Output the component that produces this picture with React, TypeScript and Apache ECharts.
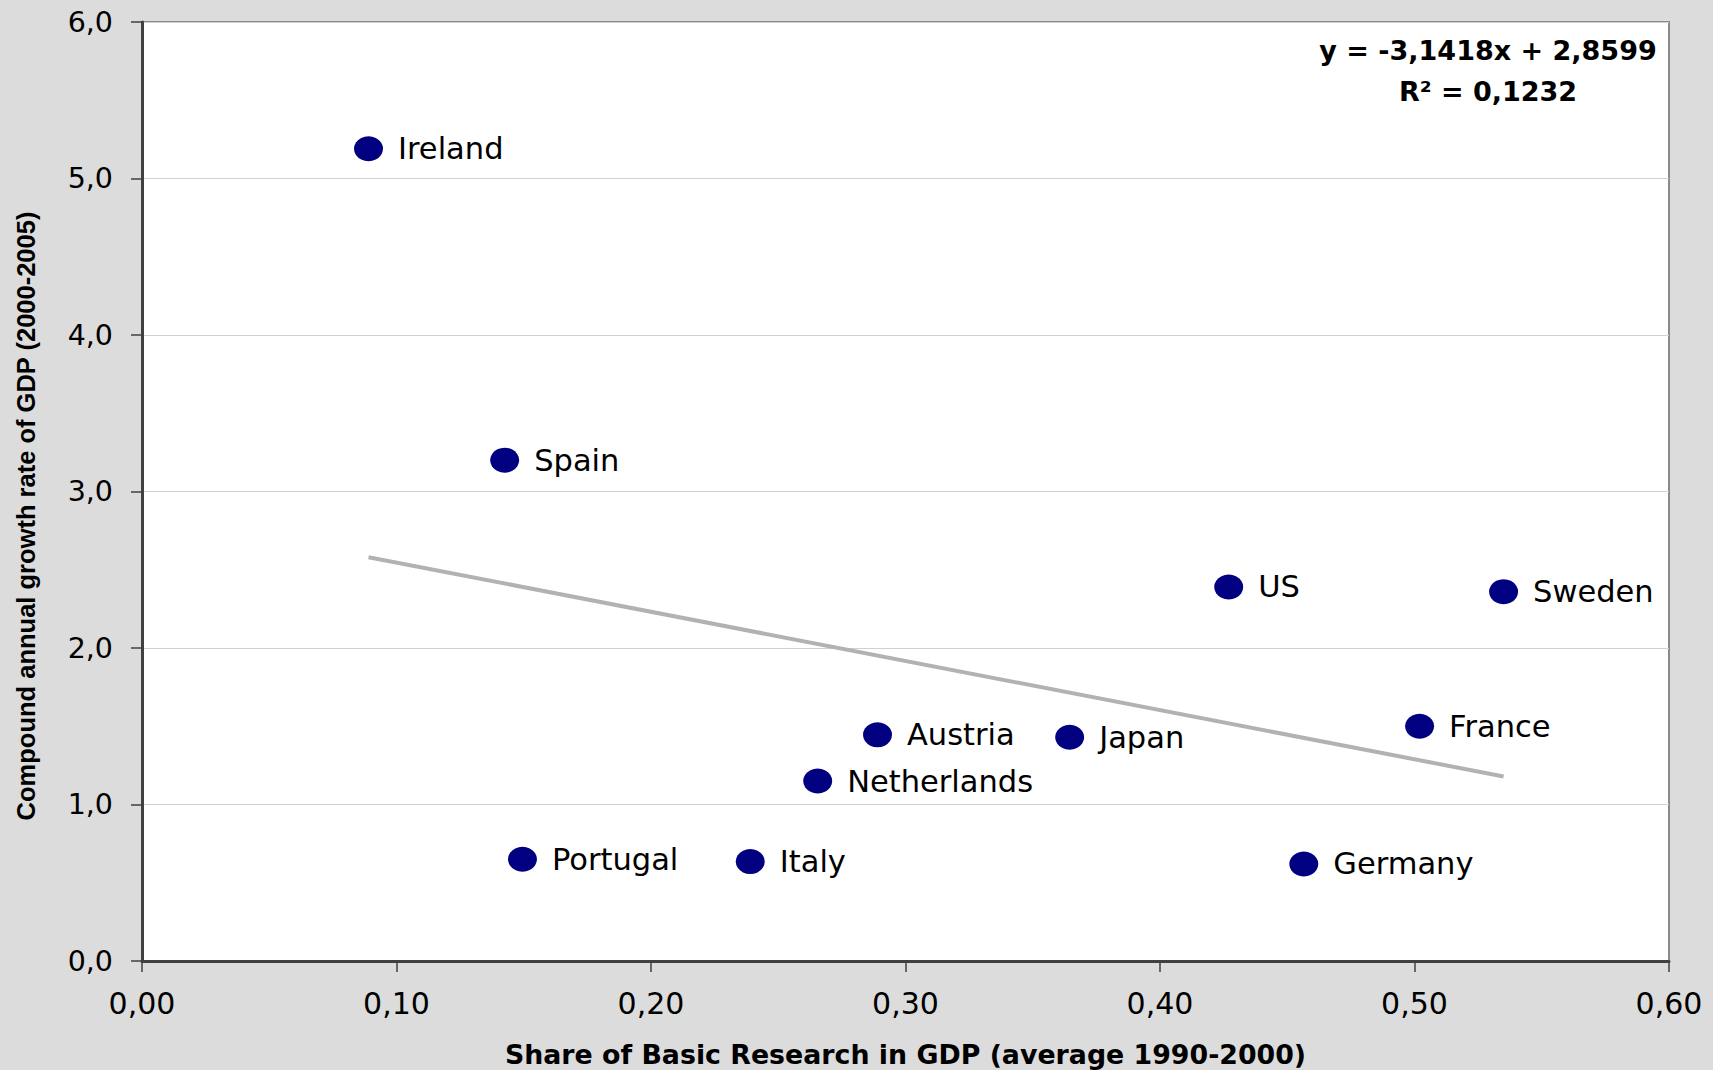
import React, { useEffect, useRef } from "react";
import * as echarts from "echarts";

// Countries and their values: share of basic research in GDP (avg 1990-2000)
// against compound annual GDP growth (2000-2005).
const countries = [
  "Ireland", "Spain", "US", "Sweden", "France", "Austria",
  "Japan", "Netherlands", "Portugal", "Italy", "Germany",
];
const basicResearchShare = [
  0.089, 0.1425, 0.427, 0.535, 0.502, 0.289,
  0.3645, 0.2655, 0.1495, 0.239, 0.4565,
];
const gdpGrowth = [
  5.19, 3.2, 2.39, 2.36, 1.5, 1.445,
  1.43, 1.15, 0.65, 0.635, 0.62,
];

// Linear trend reported on the chart
const slope = -3.1418;
const intercept = 2.8599;
const rSquared = 0.1232;

const xTicks = { min: 0, max: 0.6, interval: 0.1 };
const yTicks = { min: 0, max: 6, interval: 1 };

const fmt = (v: number, digits: number) => v.toFixed(digits).replace(".", ",");

export default function App() {
  const ref = useRef<HTMLDivElement>(null);

  useEffect(() => {
    document.body.style.margin = "0";
    if (!ref.current) return;
    const chart = echarts.init(ref.current, null, { renderer: "svg" });

    const points = countries.map((name, i) => ({
      name,
      value: [basicResearchShare[i], gdpGrowth[i]],
    }));
    const xMin = Math.min(...basicResearchShare);
    const xMax = Math.max(...basicResearchShare);
    const trend = [
      [xMin, slope * xMin + intercept],
      [xMax, slope * xMax + intercept],
    ];

    const tickFont = "DejaVu Sans";

    chart.setOption({
      animation: false,
      backgroundColor: "#dcdcdc",
      grid: {
        left: 142,
        right: 44,
        top: 22,
        bottom: 109,
        outerBoundsMode: "none",
        show: true,
        backgroundColor: "#ffffff",
        borderColor: "#8a8a8a",
        borderWidth: 2,
      },
      xAxis: {
        type: "value",
        min: xTicks.min,
        max: xTicks.max,
        interval: xTicks.interval,
        name: "Share of Basic Research in GDP (average 1990-2000)",
        nameLocation: "middle",
        nameGap: 80,
        nameTextStyle: {
          fontFamily: "DejaVu Sans",
          fontWeight: "bold",
          fontSize: 26.8,
          color: "#000",
        },
        axisLine: { show: true, lineStyle: { color: "#404040", width: 3 } },
        axisTick: { show: true, length: 11, lineStyle: { color: "#404040", width: 1.5 } },
        splitLine: { show: false },
        axisLabel: {
          margin: 27,
          fontFamily: tickFont,
          fontSize: 30,
          color: "#000",
          formatter: (v: number) => fmt(v, 2),
        },
      },
      yAxis: {
        type: "value",
        min: yTicks.min,
        max: yTicks.max,
        interval: yTicks.interval,
        axisLine: { show: true, lineStyle: { color: "#404040", width: 3 } },
        axisTick: { show: true, length: 11, lineStyle: { color: "#404040", width: 1.5 } },
        splitLine: { show: true, lineStyle: { color: "#d0d0d0", width: 1.2 } },
        axisLabel: {
          margin: 29,
          fontFamily: tickFont,
          fontSize: 28.5,
          color: "#000",
          formatter: (v: number) => fmt(v, 1),
        },
      },
      graphic: [
        {
          type: "text",
          x: 26,
          y: 516,
          rotation: Math.PI / 2,
          style: {
            text: "Compound annual growth rate of GDP (2000-2005)",
            fontFamily: "Liberation Sans",
            fontWeight: "bold",
            fontSize: 25.5,
            fill: "#000",
            align: "center",
            verticalAlign: "middle",
          },
        },
        {
          type: "text",
          x: 1488,
          y: 50,
          style: {
            text: `y = ${fmt(slope, 4)}x + ${fmt(intercept, 4)}`,
            fontFamily: "DejaVu Sans",
            fontWeight: "bold",
            fontSize: 27,
            fill: "#000",
            align: "center",
            verticalAlign: "middle",
          },
        },
        {
          type: "text",
          x: 1488,
          y: 91,
          style: {
            text: `R² = ${fmt(rSquared, 4)}`,
            fontFamily: "DejaVu Sans",
            fontWeight: "bold",
            fontSize: 27,
            fill: "#000",
            align: "center",
            verticalAlign: "middle",
          },
        },
      ],
      series: [
        {
          type: "line",
          data: trend,
          symbol: "none",
          lineStyle: { color: "#b2b2b2", width: 4 },
          silent: true,
          z: 2,
        },
        {
          type: "scatter",
          data: points,
          symbol: "circle",
          symbolSize: [29, 25],
          itemStyle: { color: "#000080", opacity: 1 },
          z: 3,
          label: {
            show: true,
            position: "right",
            distance: 15,
            formatter: (p: any) => p.name,
            fontFamily: "DejaVu Sans",
            fontSize: 30.5,
            color: "#000",
          },
        },
      ],
    });

    return () => chart.dispose();
  }, []);

  return <div ref={ref} style={{ width: 1713, height: 1070 }} />;
}
